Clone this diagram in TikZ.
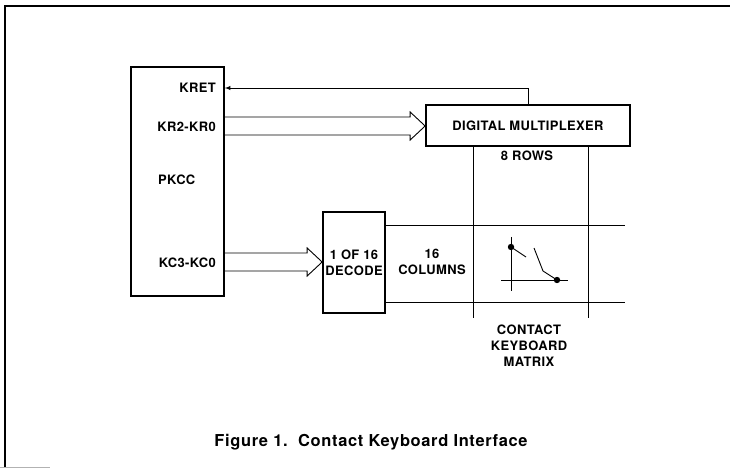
\documentclass[tikz,border=0pt]{standalone}
\usepackage{fontspec}
\setmainfont{TeX Gyre Heros}
\usepackage{tikz}
\usetikzlibrary{shapes,arrows,positioning,calc}

% hollow bus arrow from #1 to the tip #2
\newcommand{\bus}[2]{%
  \draw[thin] ($(#1)+(0,-9)$) -- ($(#2)+(-15,-9)$) -- ($(#2)+(-15,-14)$) -- (#2)
    -- ($(#2)+(-15,14)$) -- ($(#2)+(-15,9)$) -- ($(#1)+(0,9)$);}

\begin{document}
\begin{tikzpicture}[x=1bp,y=-1bp,
    block/.style={draw,line width=1.7bp,minimum width=#1,inner sep=0pt},
    lbl/.style={font=\fontsize{13}{16}\selectfont\bfseries\addfontfeature{LetterSpace=3},inner sep=0pt,align=center},
    thin/.style={line width=0.9bp}]
	\useasboundingbox (0,0) rectangle (730,472);
	\draw[line width=1.8bp] (4,6) -- (730,6);
	\draw[line width=1.1bp] (5,6) -- (5,467);
	\draw[gray!60,line width=0.8bp] (0,467) -- (50,467);
	% blocks
	\node[block=93bp,minimum height=229bp] (pkcc) at (177.5,181.5) {};
	\node[block=204bp,minimum height=41bp,lbl] (mux) at (528,125.5) {DIGITAL MULTIPLEXER};
	\node[block=62bp,minimum height=101bp,lbl] (dec) at (354,262.5) {1 OF 16\\DECODE};
	% pkcc pins
	\node[lbl,anchor=east] (kret) at (216,88) {KRET};
	\node[lbl,anchor=east] (kr) at (216,127) {KR2-KR0};
	\node[lbl,anchor=west] (name) at (158,180) {PKCC};
	\node[lbl,anchor=east] (kc) at (216,263) {KC3-KC0};
	\coordinate (krout) at (pkcc.east |- 0,126);
	\coordinate (kcout) at (pkcc.east |- 0,262);
	\bus{krout}{mux.west |- krout}
	\bus{kcout}{dec.west |- kcout}
	\draw[thin,-latex] (mux.north) |- (pkcc.east |- kret);
	% matrix
	\coordinate (c1) at (473,318);
	\coordinate (c2) at (588,318);
	\draw[thin] (mux.south -| c1) -- (c1);
	\draw[thin] (mux.south -| c2) -- (c2);
	\draw[thin] (dec.east |- 0,225) -- (625,225);
	\draw[thin] (dec.east |- 0,302) -- (625,302);
	\node[lbl] (rows) at (527,156) {8 ROWS};
	\node[lbl] (cols) at (432,262) {16\\COLUMNS};
	\node[lbl] (kbd) at (529,346) {CONTACT\\KEYBOARD\\MATRIX};
	% key switch
	\draw[thin] (511,237) -- (511,291);
	\draw[thin] (501,280) -- (568,280);
	\fill (511,247) circle (3.2);
	\fill (557,280) circle (3.2);
	\draw[thin] (511,247) -- (526,257);
	\draw[thin] (534,248) -- (543,271) -- (557,280);
	\node[font=\fontsize{16.5}{18}\selectfont\bfseries\addfontfeature{LetterSpace=4},inner sep=0pt] (cap) at (371,442) {Figure 1.\ \ Contact Keyboard Interface};
\end{tikzpicture}
\end{document}
